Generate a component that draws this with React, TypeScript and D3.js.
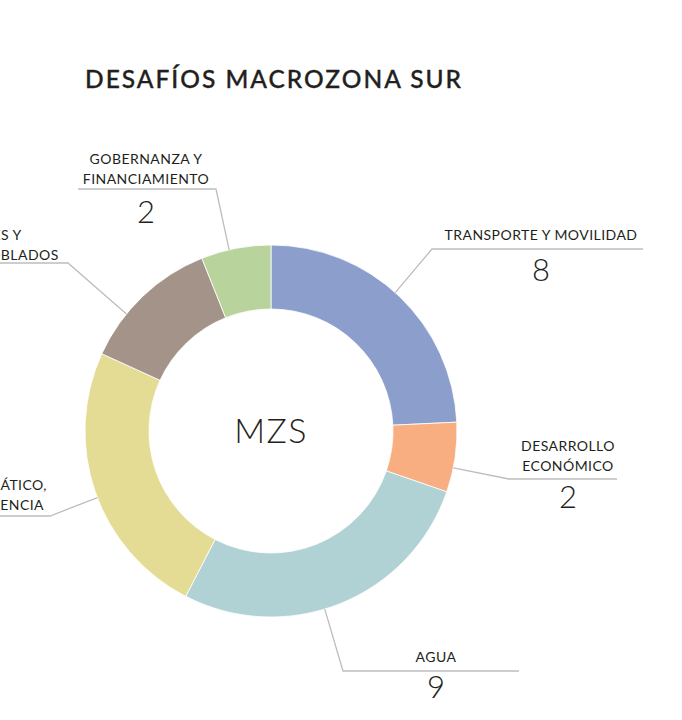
import React from "react";
import * as d3 from "d3";

const categories = [
  "TRANSPORTE Y MOVILIDAD",
  "DESARROLLO ECONÓMICO",
  "AGUA",
  "CAMBIO CLIMÁTICO, RIESGO Y RESILIENCIA",
  "ZONAS RURALES Y TERRITORIOS DESPOBLADOS",
  "GOBERNANZA Y FINANCIAMIENTO",
];
const values = [8, 2, 9, 8, 4, 2];
const labelLines = [
  ["TRANSPORTE Y MOVILIDAD"],
  ["DESARROLLO", "ECONÓMICO"],
  ["AGUA"],
  ["CAMBIO CLIMÁTICO,", "RIESGO Y RESILIENCIA"],
  ["ZONAS RURALES Y", "TERRITORIOS DESPOBLADOS"],
  ["GOBERNANZA Y", "FINANCIAMIENTO"],
];
const colors = ["#8c9ecc", "#f8ae80", "#b0d2d4", "#e4dc95", "#a39389", "#b8d39b"];
const title = "DESAFÍOS MACROZONA SUR";
const centerLabel = "MZS";

// layout for annotations (lineEnd: right-aligned line ends for labels cut by the left edge)
const layout: any[] = [
  { angle: 41.9, elbow: [432, 249], end: 643, cx: 541, lineY: [240], valY: 281 },
  { angle: 101.4, elbow: [509, 479], end: 617, cx: 568, lineY: [451, 471], valY: 508 },
  { angle: 163.2, elbow: [343, 671], end: 519, cx: 436, lineY: [662], valY: 698 },
  { angle: 249, elbow: [50, 516], end: -120, cx: -28, lineY: [490, 510], valY: 545, lineEnd: [47, 44] },
  { angle: 309, elbow: [68, 263], end: -150, cx: -43, lineY: [240, 260], valY: 295 },
  { angle: 347, elbow: [216, 189], end: 78, cx: 146, lineY: [164, 184], valY: 223 },
];

const W = 682, H = 720;
const CX = 271, CY = 431;
const R_OUT = 186, R_IN = 122;
const FONT = "Lato, 'Open Sans', sans-serif";

export default function App() {
  const pie = d3.pie<number>().sort(null).value((d) => d);
  const arcs = pie(values);
  const arcGen = d3.arc<d3.PieArcDatum<number>>().innerRadius(R_IN).outerRadius(R_OUT);

  return (
    <svg width={W} height={H} style={{ position: "absolute", left: 0, top: 0, background: "#fff" }}>
      <text x={85} y={88} fontFamily={FONT} fontSize={24.5} fontWeight={500} fill="#231f20" letterSpacing={2} stroke="#231f20" strokeWidth={0.35}>
        {title}
      </text>
      <g transform={`translate(${CX},${CY})`}>
        {arcs.map((a, i) => (
          <path key={categories[i]} d={arcGen(a) || ""} fill={colors[i]} stroke="#fff" strokeWidth={0.8} />
        ))}
        <text x={0} y={12} textAnchor="middle" fontFamily={FONT} fontSize={34} fontWeight={300} fill="#231f20" letterSpacing={1.3}>
          {centerLabel}
        </text>
      </g>
      {layout.map((l, i) => {
        const rad = (l.angle * Math.PI) / 180;
        const sx = CX + R_OUT * Math.sin(rad);
        const sy = CY - R_OUT * Math.cos(rad);
        return (
          <g key={i}>
            <polyline
              points={`${sx},${sy} ${l.elbow[0]},${l.elbow[1]} ${l.end},${l.elbow[1]}`}
              fill="none"
              stroke="#bdbdbd"
              strokeWidth={1.3}
            />
            {labelLines[i].map((t: string, j: number) => (
              <text
                key={j}
                x={l.lineEnd ? l.lineEnd[j] : l.cx}
                y={l.lineY[j]}
                textAnchor={l.lineEnd ? "end" : "middle"}
                fontFamily={FONT}
                fontSize={14}
                fill="#231f20"
                letterSpacing={0.45}
              >
                {t}
              </text>
            ))}
            <text x={l.cx} y={l.valY} textAnchor="middle" fontFamily={FONT} fontSize={31} fontWeight={300} fill="#231f20">
              {values[i]}
            </text>
          </g>
        );
      })}
    </svg>
  );
}
